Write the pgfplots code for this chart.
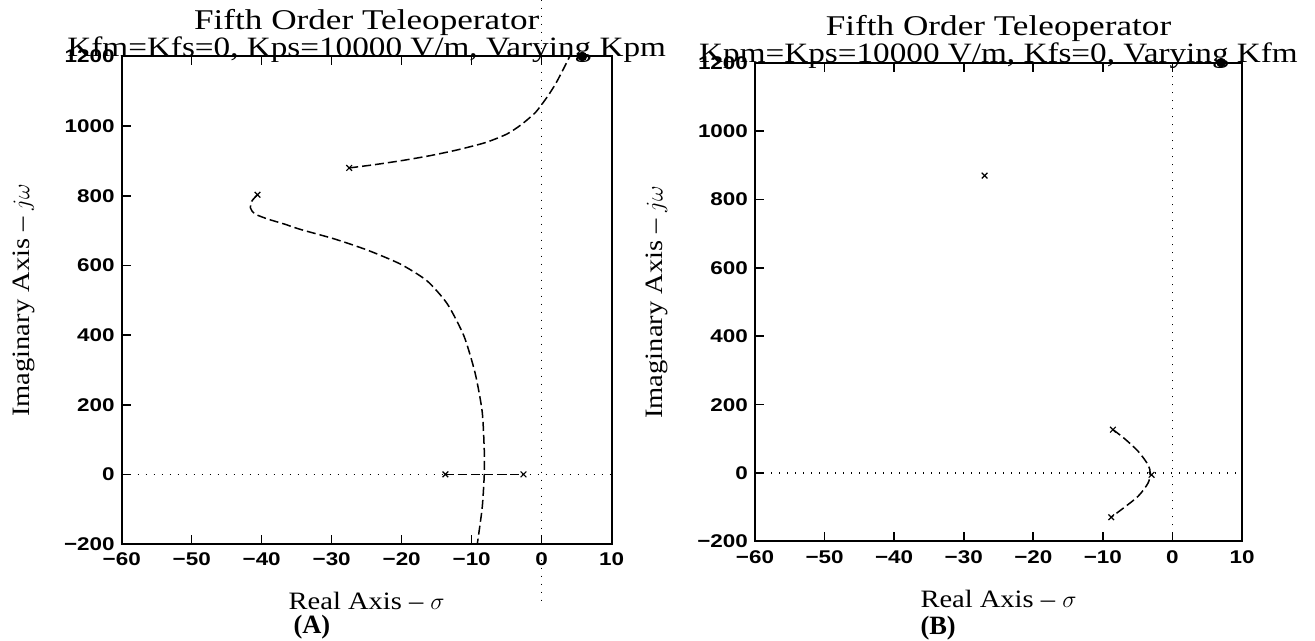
\documentclass[border=0pt]{standalone}
\usepackage{fontspec}
\setmainfont{Liberation Serif}
\newfontfamily\ttlA{Liberation Serif}[FakeStretch=1.23]
\newfontfamily\ttlB{Liberation Serif}[FakeStretch=1.186]
\newfontfamily\wideserif{Liberation Serif}[FakeStretch=1.14]
\newfontfamily\tickfont{Liberation Sans}[FakeStretch=1.22]
\usepackage{pgfplots}
\pgfplotsset{compat=1.18}

% shared look of both root-locus panels
\pgfplotsset{
  rl/.style={
    scale only axis,
    clip=false,
    xmin=-60, xmax=10, ymin=-200, ymax=1200,
    xtick={-60,-50,-40,-30,-20,-10,0,10},
    xticklabels={−60,−50,−40,−30,−20,−10,0,10},
    ytick={-200,0,200,400,600,800,1000,1200},
    yticklabels={−200,0,200,400,600,800,1000,1200},
    tick label style={font=\tickfont\bfseries\fontsize{9.2}{11}\selectfont},
    xticklabel style={yshift=-1pt},
    axis line style={line width=1pt},
    tick style={black, line width=0.8pt},
    major tick length=4.5pt,
    tick align=inside,
    xtick pos=both, xticklabel pos=bottom,
    ytick pos=left,
  },
  locus/.style={black, line width=0.75pt, dash pattern=on 4.5pt off 2pt},
  grd/.style={black, line width=0.6pt, dash pattern=on 0.6pt off 3.4pt},
  pole/.style={only marks, mark=x, mark size=2pt, mark options={solid, line width=0.6pt}},
}
\tikzset{
  ttl/.style={anchor=base, font=\ttlA\fontsize{14.3}{17}\selectfont},
  sub/.style={anchor=base, font=\ttlB\fontsize{14}{17}\selectfont},
  lbl/.style={inner sep=0pt, font=\wideserif\fontsize{12.5}{15}\selectfont},
  tag/.style={anchor=base west, inner sep=0pt, font=\bfseries\fontsize{13.2}{15}\selectfont},
}

\begin{document}
\begin{tikzpicture}

%--- (A) varying Kpm
\begin{axis}[rl, at={(60.85pt,48.5pt)}, anchor=south west, width=245pt, height=243.75pt]
\addplot[grd] coordinates {(-60,0) (10,0)};
\addplot[grd] coordinates {(0,1363) (0,-367)};
\addplot[locus, smooth, tension=0.4] coordinates {(-27.5,880) (-24,889) (-20,901) (-16,915) (-12,932) (-8,953) (-5,977) (-3,1003) (-1,1037) (0,1062) (1,1090) (2,1122) (3,1160) (4,1200)};
\addplot[locus, smooth, tension=0.4] coordinates {(-40.6,803) (-41.4,785) (-41.6,765) (-41,748) (-39.1,733) (-36.8,719) (-34.4,703) (-29.6,676) (-24.9,644) (-20.2,604) (-16.4,556) (-13.5,490) (-11.1,397) (-9.5,290) (-8.5,180) (-8.2,67) (-8.2,0) (-8.5,-96) (-9.2,-200)};
\addplot[locus] coordinates {(-13.75,0) (-2.6,0)};
\addplot[pole] coordinates {(-27.5,880) (-40.6,803) (-13.75,0) (-2.6,0)};
\addplot[only marks, mark=*, mark size=2.2pt] coordinates {(5.8,1200)};
\node[ttl] at (rel axis cs:0.5,1) [yshift=13.5pt] {Fifth Order Teleoperator};
\node[sub] at (rel axis cs:0.5,1) {Kfm=Kfs=0, Kps=10000 V/m, Varying Kpm};
\node[lbl, anchor=base] at (rel axis cs:0.5,0) [yshift=-33pt] {Real Axis – $\sigma$};
\node[tag] at (rel axis cs:0.35,0) [yshift=-45pt] {(A)};
\node[lbl, xshift=-49pt, rotate=90] at (rel axis cs:0,0.5) {Imaginary Axis – $j\omega$};
\end{axis}

%--- (B) varying Kfm
\begin{axis}[rl, at={(377.5pt,49.75pt)}, anchor=south west, width=243.5pt, height=239.4pt]
\addplot[grd] coordinates {(-60,0) (10,0)};
\addplot[grd] coordinates {(0,-200) (0,1200)};
\addplot[locus, smooth, tension=0.5] coordinates {(-8.55,127) (-6.9,101) (-4.9,63) (-3.5,24) (-3.2,0) (-3.5,-29) (-4.9,-67) (-6.9,-100) (-8.8,-129)};
\addplot[pole] coordinates {(-27,870) (-8.55,127) (-8.8,-129) (-3,-5)};
\addplot[only marks, mark=*, mark size=2.2pt] coordinates {(7,1200)};
\node[ttl] at (rel axis cs:0.5,1) [yshift=13.5pt] {Fifth Order Teleoperator};
\node[sub] at (rel axis cs:0.5,1) {Kpm=Kps=10000 V/m, Kfs=0, Varying Kfm};
\node[lbl, anchor=base] at (rel axis cs:0.5,0) [yshift=-33.25pt] {Real Axis – $\sigma$};
\node[tag] at (rel axis cs:0.339,0) [yshift=-46.3pt] {(B)};
\node[lbl, xshift=-49pt, rotate=90] at (rel axis cs:0,0.5) {Imaginary Axis – $j\omega$};
\end{axis}

\pgfresetboundingbox
\path[use as bounding box] (0,0) rectangle (657.5pt,320.5pt);
\end{tikzpicture}
\end{document}
